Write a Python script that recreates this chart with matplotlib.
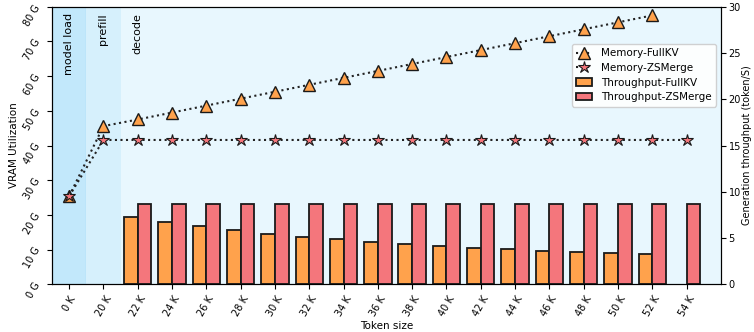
import numpy as np
from matplotlib import pyplot as plt
import matplotlib
matplotlib.use("Agg")

tokens = ['0 K', '20 K', '22 K', '24 K', '26 K', '28 K', '30 K', '32 K', '34 K',
          '36 K', '38 K', '40 K', '42 K', '44 K', '46 K', '48 K', '50 K', '52 K', '54 K']

# VRAM (G)
mem_fullkv = [25.4, 45.6, 47.5, 49.5, 51.5, 53.5, 55.5, 57.5, 59.5,
              61.5, 63.5, 65.5, 67.5, 69.5, 71.5, 73.5, 75.5, 77.5]
mem_zsmerge = [25.4, 41.6, 41.6, 41.6, 41.6, 41.6, 41.6, 41.6, 41.6,
               41.6, 41.6, 41.6, 41.6, 41.6, 41.6, 41.6, 41.6, 41.6, 41.6]

# throughput (token/S), decode stage only (22K..54K)
tp_fullkv = [7.29, 6.75, 6.28, 5.85, 5.48, 5.16, 4.87, 4.62, 4.40,
             4.18, 3.97, 3.82, 3.64, 3.50, 3.36, 3.25]
tp_zsmerge = [8.68] * 17

c_orange = '#FFA24C'
c_red = '#F4767C'

fig = plt.figure(figsize=(7.54, 3.32), dpi=100)
ax = fig.add_axes([0.069, 0.1437, 0.887, 0.836])
ax2 = ax.twinx()

# bars live on ax2, memory lines on ax (drawn on top)
ax.set_zorder(ax2.get_zorder() + 1)
ax.patch.set_visible(False)

ax.set_xlim(-0.5, 19.0)
ax2.set_xlim(-0.5, 19.0)
ax.set_ylim(0, 80)
ax2.set_ylim(0, 30)

# stage backgrounds
ax2.axvspan(-0.5, 0.5, color='#C2E8FB', lw=0, zorder=0)
ax2.axvline(0.5, color='#A8DCF6', lw=1, zorder=0)
ax2.axvspan(0.5, 1.5, color='#D6F0FC', lw=0, zorder=0)
ax2.axvspan(1.5, 19.0, color='#E8F7FE', lw=0, zorder=0)

for xpos, txt in [(0, 'model load'), (1, 'prefill'), (2, 'decode')]:
    ax.text(xpos, 78.2, txt, rotation=90, ha='center', va='top', fontsize=8)

x = np.arange(len(tokens))
xd = x[2:]

b1 = ax2.bar(xd[:len(tp_fullkv)] - 0.2, tp_fullkv, width=0.4, color=c_orange,
             edgecolor='#1a1a1a', linewidth=1.3, label='Throughput-FullKV')
b2 = ax2.bar(xd + 0.2, tp_zsmerge, width=0.4, color=c_red,
             edgecolor='#1a1a1a', linewidth=1.3, label='Throughput-ZSMerge')

l1, = ax.plot(x[:len(mem_fullkv)], mem_fullkv, ':', color='#222222', lw=1.5,
              marker='^', markersize=9, markerfacecolor=c_orange,
              markeredgecolor='#1a1a1a', markeredgewidth=1.0, label='Memory-FullKV')
l2, = ax.plot(x, mem_zsmerge, ':', color='#222222', lw=1.5,
              marker='*', markersize=9, markerfacecolor=c_red,
              markeredgecolor='#1a1a1a', markeredgewidth=0.8, label='Memory-ZSMerge')

ax.set_xticks(x)
ax.set_xticklabels(tokens, rotation=60, fontsize=7)
ax.set_yticks(np.arange(0, 81, 10))
ax.set_yticklabels([f'{v} G' for v in range(0, 81, 10)], rotation=60, fontsize=7)
ax2.set_yticks(np.arange(0, 31, 5))
ax2.tick_params(axis='y', labelsize=7, pad=2)

ax.set_xlabel('Token size', fontsize=7.5, labelpad=2)
ax.set_ylabel('VRAM Utilization', fontsize=7.5, labelpad=2)
ax2.set_ylabel('Generation throughput (token/S)', fontsize=7, labelpad=1)

ax.legend([l1, l2, b1, b2],
          ['Memory-FullKV', 'Memory-ZSMerge', 'Throughput-FullKV', 'Throughput-ZSMerge'],
          loc='upper right', bbox_to_anchor=(1.0, 0.884), fontsize=7.5,
          handlelength=1.6, borderpad=0.4, labelspacing=0.45, framealpha=0.9)

fig.savefig('out.png', dpi=100)
